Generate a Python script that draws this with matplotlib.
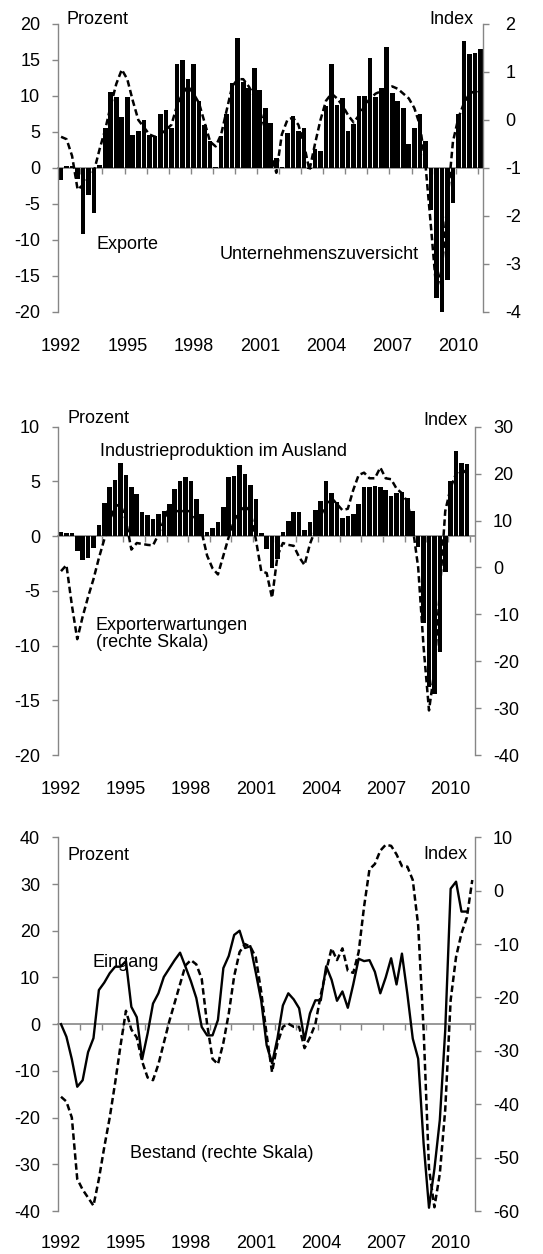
import numpy as np
import matplotlib
matplotlib.use("Agg")
import matplotlib.pyplot as plt

plt.rcParams['font.family'] = ['Liberation Sans', 'DejaVu Sans']
plt.rcParams['axes.unicode_minus'] = False

GRAY = '#868686'
FS = 13

# quarterly, 1992Q1 .. 2011Q1
year_labels = ['1992', '1995', '1998', '2001', '2004', '2007', '2010']

# panel 1: Exporte (Prozent, bars) and Unternehmenszuversicht (Index, dashed)
exporte = [-1.7, 0.3, 0.3, -1.5, -9.1, -3.8, -6.2, 0.4, 5.5, 10.6,
           9.8, 7.1, 9.8, 4.6, 5.1, 6.6, 4.6, 4.5, 7.5, 8.1,
           5.6, 14.4, 15.0, 12.4, 14.4, 9.3, 6.0, 3.8, 0.2, 4.4,
           7.5, 11.8, 18.0, 11.9, 11.1, 13.9, 10.8, 8.4, 6.2, 1.4,
           0.2, 4.8, 7.2, 5.1, 5.5, -0.1, 2.6, 2.4, 8.6, 14.5,
           8.7, 9.7, 5.1, 6.1, 10.0, 10.0, 15.3, 9.8, 11.1, 16.8,
           10.4, 9.3, 8.4, 3.3, 5.5, 7.5, 3.8, -5.9, -18.0, -20.0,
           -15.5, -4.8, 7.5, 17.6, 15.9, 16.0, 16.5]
zuversicht = [-0.35, -0.4, -0.75, -1.45, -1.35, -1.2, -1.05, -0.6, -0.2, 0.3,
              0.75, 1.05, 0.85, 0.4, 0.0, -0.15, -0.3, -0.35, -0.3, -0.2,
              -0.1, 0.3, 0.55, 0.7, 0.55, 0.35, -0.05, -0.45, -0.55, -0.3,
              0.2, 0.7, 0.85, 0.85, 0.7, 0.5, 0.2, -0.2, -0.7, -1.1,
              -0.3, 0.0, 0.05, -0.1, -0.5, -1.05, -0.5, 0.0, 0.4, 0.55,
              0.45, 0.3, 0.1, -0.05, 0.1, 0.3, 0.45, 0.55, 0.6, 0.65,
              0.7, 0.65, 0.55, 0.45, 0.25, -0.1, -0.9, -2.2, -3.55, -3.1,
              -1.7, -0.45, 0.05, 0.35, 0.55, 0.6, 0.55]

# panel 2: Industrieproduktion im Ausland (bars), Exporterwartungen (dashed)
industrie = [0.4, 0.27, 0.27, -1.4, -2.2, -2.0, -1.1, 1.0, 3.0, 4.5,
             5.15, 6.7, 5.6, 4.5, 3.85, 2.2, 1.9, 1.6, 2.0, 2.3,
             2.9, 4.3, 5.0, 5.4, 5.0, 3.4, 2.0, 0.4, 0.7, 1.3,
             2.7, 5.4, 5.5, 6.5, 5.7, 4.7, 3.4, 0.3, -1.2, -2.9,
             -2.1, 0.4, 1.4, 2.2, 2.2, 0.6, 1.3, 2.4, 3.2, 5.0,
             3.9, 3.1, 1.7, 1.8, 2.0, 2.9, 4.5, 4.5, 4.6, 4.5,
             4.2, 3.7, 3.9, 4.0, 3.5, 2.3, -1.0, -7.9, -13.8, -14.4,
             -10.6, -3.3, 5.0, 7.8, 6.7, 6.6, np.nan]
exporterwartungen = [-0.8, 0.5, -8.0, -15.3, -10.5, -6.3, -2.5, 2.0, 6.0, 10.0,
                     13.0, 13.5, 10.0, 3.8, 5.2, 5.0, 4.8, 4.7, 7.0, 10.0,
                     13.0, 12.0, 12.0, 12.0, 12.0, 10.0, 7.5, 2.5, -0.2, -1.5,
                     2.5, 6.5, 10.0, 12.0, 13.0, 12.0, 6.0, -0.8, -1.2, -6.5,
                     2.5, 5.2, 4.8, 4.6, 2.2, 0.5, 5.0, 8.0, 11.0, 13.5,
                     14.8, 13.5, 12.2, 12.5, 16.5, 19.7, 20.2, 19.0, 19.0, 21.3,
                     19.0, 18.8, 16.8, 15.8, 14.0, 8.5, 0.0, -17.0, -30.5, -22.0,
                     -5.0, 12.0, 17.0, 20.0, 21.0, 20.0, np.nan]

# panel 3: Auftragseingang (Prozent, solid) and Bestand (Index, dashed)
eingang = [0.0, -2.7, -7.5, -13.4, -12.0, -6.0, -3.0, 7.3, 8.9, 10.9,
           12.3, 12.3, 13.5, 3.7, 1.5, -7.5, -2.0, 4.4, 6.6, 10.1,
           11.9, 13.7, 15.3, 12.3, 9.2, 5.6, -0.6, -2.4, -2.4, 0.9,
           12.0, 14.6, 19.1, 20.0, 16.3, 16.7, 11.0, 5.0, -4.5, -8.4,
           -3.0, 4.0, 6.6, 5.3, 3.4, -3.4, 2.3, 5.1, 5.1, 12.4,
           9.5, 5.0, 7.0, 3.5, 8.5, 14.0, 13.5, 13.7, 11.2, 6.6,
           10.0, 14.1, 8.5, 15.1, 6.5, -3.1, -7.4, -25.5, -39.3, -31.0,
           -20.5, -1.3, 29.0, 30.5, 24.1, 24.1, np.nan]
bestand = [-38.6, -39.5, -42.5, -54.0, -56.0, -57.5, -59.0, -54.0, -48.0, -42.5,
           -36.0, -29.0, -22.5, -26.0, -27.5, -32.0, -35.0, -35.5, -32.5, -28.5,
           -24.5, -21.0, -17.5, -14.0, -13.0, -13.8, -16.5, -25.0, -31.5, -32.5,
           -28.5, -23.0, -16.0, -11.5, -10.0, -10.5, -12.5, -19.0, -27.0, -34.0,
           -28.6, -25.5, -24.9, -25.5, -25.5, -29.5, -27.5, -25.0, -19.5, -15.0,
           -10.8, -13.0, -10.8, -15.0, -15.4, -11.5, -3.0, 4.0, 5.0, 7.5,
           8.6, 8.4, 6.8, 4.6, 4.5, 2.0, -6.5, -26.0, -52.0, -59.3,
           -53.0, -41.0, -20.5, -12.4, -8.0, -5.0, 2.0]

W, H = 543, 1254


def px_rect(left, top, right, bottom):
    return [left / W, 1 - bottom / H, (right - left) / W, (bottom - top) / H]


def style_axes(ax, ax2, ylim, yticks, ylim2, yticks2, label_pad, right_pad):
    n = len(exporte)
    ax.set_xlim(-0.5, n - 0.5)
    ax.set_ylim(*ylim)
    ax.set_yticks(yticks)
    ax2.set_ylim(*ylim2)
    ax2.set_yticks(yticks2)
    for a in (ax, ax2):
        for s in a.spines.values():
            s.set_visible(False)
            s.set_color(GRAY)
            s.set_linewidth(1.0)
    ax.spines['left'].set_visible(True)
    ax2.spines['right'].set_visible(True)
    ax.tick_params(axis='y', direction='out', length=4, width=1.0, color=GRAY,
                   labelsize=FS, pad=9)
    ax2.tick_params(axis='y', direction='out', length=4, width=1.0, color=GRAY,
                    labelsize=FS, pad=right_pad)
    ax.set_xticks(np.arange(0, n, 12))
    ax.set_xticklabels(year_labels)
    ax.tick_params(axis='x', length=0, labelsize=FS, pad=label_pad)
    # category axis crossing at zero, tick marks every 4 quarters
    frac = (0 - ylim[0]) / (ylim[1] - ylim[0])
    sec = ax.secondary_xaxis(frac)
    sec.set_xticks(np.arange(4, n, 4) - 0.5)
    sec.tick_params(axis='x', direction='in', length=4, width=1.0, color=GRAY,
                    labeltop=False, labelbottom=False)
    for s in sec.spines.values():
        s.set_color(GRAY)
        s.set_linewidth(1.2)
    ax.patch.set_visible(False)


def main():
    fig = plt.figure(figsize=(W / 100, H / 100), dpi=100)
    x = np.arange(len(exporte))
    dash = (0, (2.6, 1.4))
    lw_dash = 1.8

    # ---- panel 1
    ax = fig.add_axes(px_rect(58.3, 24, 483.3, 312))
    ax2 = ax.twinx()
    ax.bar(x, exporte, width=0.84, color='black', linewidth=0)
    ax2.plot(x, zuversicht, color='black', lw=lw_dash, linestyle=dash)
    style_axes(ax, ax2, (-20, 20), range(-20, 21, 5), (-4, 2), range(-4, 3),
               18.5, 12)
    ax.text(0.02, 1.014, 'Prozent', transform=ax.transAxes, fontsize=FS,
            ha='left', va='center')
    ax.text(0.976, 1.014, 'Index', transform=ax.transAxes, fontsize=FS,
            ha='right', va='center')
    ax.text(0.089, 0.233, 'Exporte', transform=ax.transAxes, fontsize=FS,
            ha='left', va='center')
    ax.text(0.380, 0.198, 'Unternehmenszuversicht', transform=ax.transAxes,
            fontsize=FS, ha='left', va='center')

    # ---- panel 2
    ax = fig.add_axes(px_rect(58.3, 426.7, 475, 755))
    ax2 = ax.twinx()
    ax.bar(x, industrie, width=0.84, color='black', linewidth=0)
    ax2.plot(x, exporterwartungen, color='black', lw=lw_dash, linestyle=dash)
    style_axes(ax, ax2, (-20, 10), range(-20, 11, 5), (-40, 30),
               range(-40, 31, 10), 19, 9)
    ax.text(0.021, 1.025, 'Prozent', transform=ax.transAxes, fontsize=FS,
            ha='left', va='center')
    ax.text(0.983, 1.020, 'Index', transform=ax.transAxes, fontsize=FS,
            ha='right', va='center')
    ax.text(0.100, 0.923, 'Industrieproduktion im Ausland',
            transform=ax.transAxes, fontsize=FS, ha='left', va='center')
    ax.text(0.090, 0.369, 'Exporterwartungen\n(rechte Skala)',
            transform=ax.transAxes, fontsize=FS, ha='left', va='center',
            linespacing=1.05)

    # ---- panel 3
    ax = fig.add_axes(px_rect(58.3, 837.3, 475, 1211))
    ax2 = ax.twinx()
    ax.plot(x, eingang, color='black', lw=1.7)
    ax2.plot(x, bestand, color='black', lw=lw_dash, linestyle=dash)
    style_axes(ax, ax2, (-40, 40), range(-40, 41, 10), (-60, 10),
               range(-60, 11, 10), 17.5, 9)
    ax.text(0.021, 0.950, 'Prozent', transform=ax.transAxes, fontsize=FS,
            ha='left', va='center')
    ax.text(0.983, 0.953, 'Index', transform=ax.transAxes, fontsize=FS,
            ha='right', va='center')
    ax.text(0.083, 0.666, 'Eingang', transform=ax.transAxes, fontsize=FS,
            ha='left', va='center')
    ax.text(0.172, 0.155, 'Bestand (rechte Skala)', transform=ax.transAxes,
            fontsize=FS, ha='left', va='center')

    fig.savefig('out.png', dpi=100, facecolor='white')


if __name__ == '__main__':
    main()
